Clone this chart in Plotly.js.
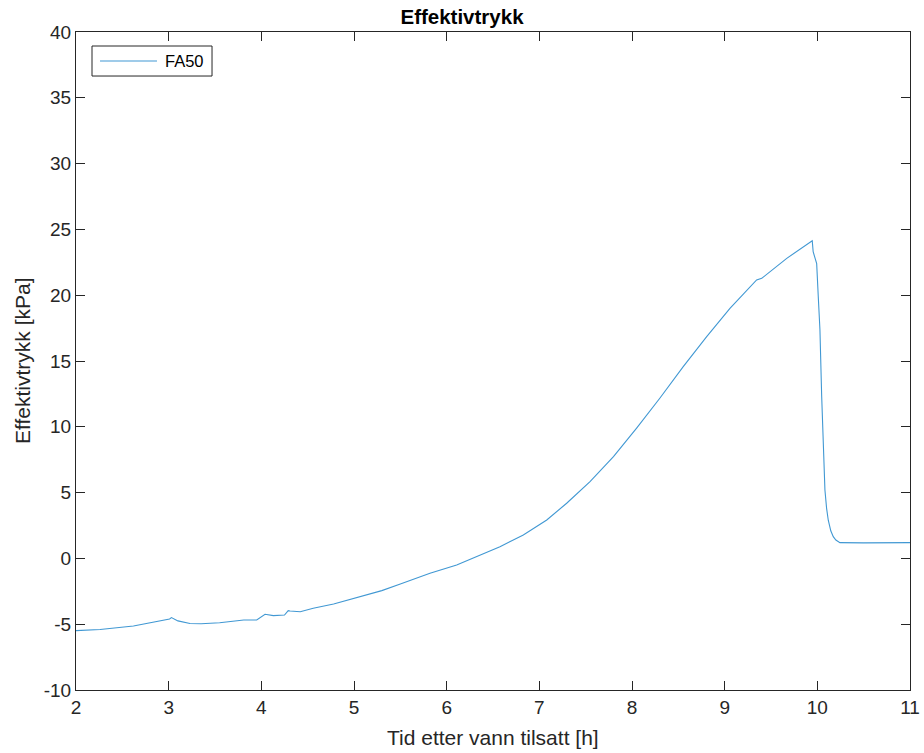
<!DOCTYPE html>
<html>
<head>
<meta charset="utf-8">
<script src="https://cdn.plot.ly/plotly-3.0.1.min.js"></script>
<style>
  html, body { margin: 0; padding: 0; background: #fff; }
  #chart { width: 924px; height: 753px; }
</style>
</head>
<body>
<div id="chart"></div>
<script>
// Time after water was added [h]
const timeH = [2.0, 2.26, 2.62, 2.9, 3.01, 3.03, 3.1, 3.23, 3.35, 3.55, 3.7, 3.81, 3.95,
  4.04, 4.13, 4.25, 4.29, 4.31, 4.42, 4.56, 4.78, 5.065, 5.3, 5.5, 5.82, 6.108, 6.32,
  6.575, 6.827, 7.08, 7.295, 7.547, 7.80, 8.05, 8.30, 8.553, 8.806, 9.057, 9.345, 9.40,
  9.67, 9.945, 9.955, 9.975, 9.993, 10.01, 10.028, 10.047, 10.064, 10.082, 10.1, 10.118,
  10.145, 10.172, 10.2, 10.244, 10.5, 10.8, 11.0];

// Effective pressure, series FA50 [kPa]
const fa50 = [-5.49, -5.4, -5.14, -4.78, -4.6, -4.5, -4.75, -4.95, -4.97, -4.89, -4.8,
  -4.68, -4.68, -4.25, -4.35, -4.3, -3.97, -4.0, -4.05, -3.79, -3.46, -2.91, -2.45,
  -1.95, -1.13, -0.5, 0.13, 0.89, 1.78, 2.92, 4.19, 5.83, 7.73, 9.9, 12.17, 14.57,
  16.85, 19.0, 21.16, 21.28, 22.8, 24.14, 23.3, 22.9, 22.4, 19.9, 17.4, 12.3, 8.5, 5.2,
  3.8, 2.9, 2.1, 1.65, 1.4, 1.2, 1.18, 1.2, 1.2];

const xTicks = [2, 3, 4, 5, 6, 7, 8, 9, 10, 11];
const yTicks = [-10, -5, 0, 5, 10, 15, 20, 25, 30, 35, 40];
const seriesName = "FA50";

const font = "Liberation Sans, Arial, Helvetica, sans-serif";
const axisColor = "#262626";
const lineColor = "#4198d3";

const axisBase = {
  showline: true, linecolor: axisColor, linewidth: 1, mirror: "ticks",
  ticks: "inside", ticklen: 9, tickwidth: 1, tickcolor: axisColor,
  showgrid: false, zeroline: false, automargin: false,
  tickfont: { family: font, size: 19, color: axisColor }
};

const trace = {
  x: timeH, y: fa50, type: "scatter", mode: "lines", name: seriesName,
  line: { color: lineColor, width: 1.1 }
};

// Legend box drawn in paper coordinates (plot area spans 0..1)
const legendShapes = [
  { type: "rect", xref: "paper", yref: "paper", x0: 0.0192, x1: 0.1631, y0: 0.9331, y1: 0.9787,
    line: { color: axisColor, width: 1 }, fillcolor: "#fff", layer: "above" },
  { type: "line", xref: "paper", yref: "paper", x0: 0.0288, x1: 0.0971, y0: 0.9559, y1: 0.9559,
    line: { color: lineColor, width: 1.1 }, layer: "above" }
];

const layout = {
  width: 924, height: 753,
  margin: { l: 76, r: 14, t: 32, b: 63 },
  paper_bgcolor: "#fff", plot_bgcolor: "#fff",
  title: { text: "<b>Effektivtrykk</b>", font: { family: font, size: 20.5, color: "#000" },
           x: 0.5, xanchor: "center", y: 0.977, yanchor: "middle" },
  xaxis: Object.assign({}, axisBase, {
    range: [2, 11], tickvals: xTicks, ticktext: xTicks.map(String)
  }),
  yaxis: Object.assign({}, axisBase, {
    range: [-10, 40], tickvals: yTicks, ticktext: yTicks.map(String),
    ticklabelstandoff: 0
  }),
  showlegend: false,
  shapes: legendShapes,
  annotations: [
    { text: seriesName, xref: "paper", yref: "paper", x: 0.1043, y: 0.9559,
      xanchor: "left", yanchor: "middle", showarrow: false,
      font: { family: font, size: 16.5, color: "#000" } },
    { text: "Tid etter vann tilsatt [h]", xref: "paper", yref: "paper", x: 0.5, y: 0,
      xanchor: "center", yanchor: "middle", yshift: -47, showarrow: false,
      font: { family: font, size: 21, color: axisColor } },
    { text: "Effektivtrykk [kPa]", xref: "paper", yref: "paper", x: 0, y: 0.5,
      xanchor: "center", yanchor: "middle", xshift: -54, textangle: -90, showarrow: false,
      font: { family: font, size: 21, color: axisColor } }
  ]
};

Plotly.newPlot("chart", [trace], layout, { displayModeBar: false, staticPlot: true });
</script>
</body>
</html>
